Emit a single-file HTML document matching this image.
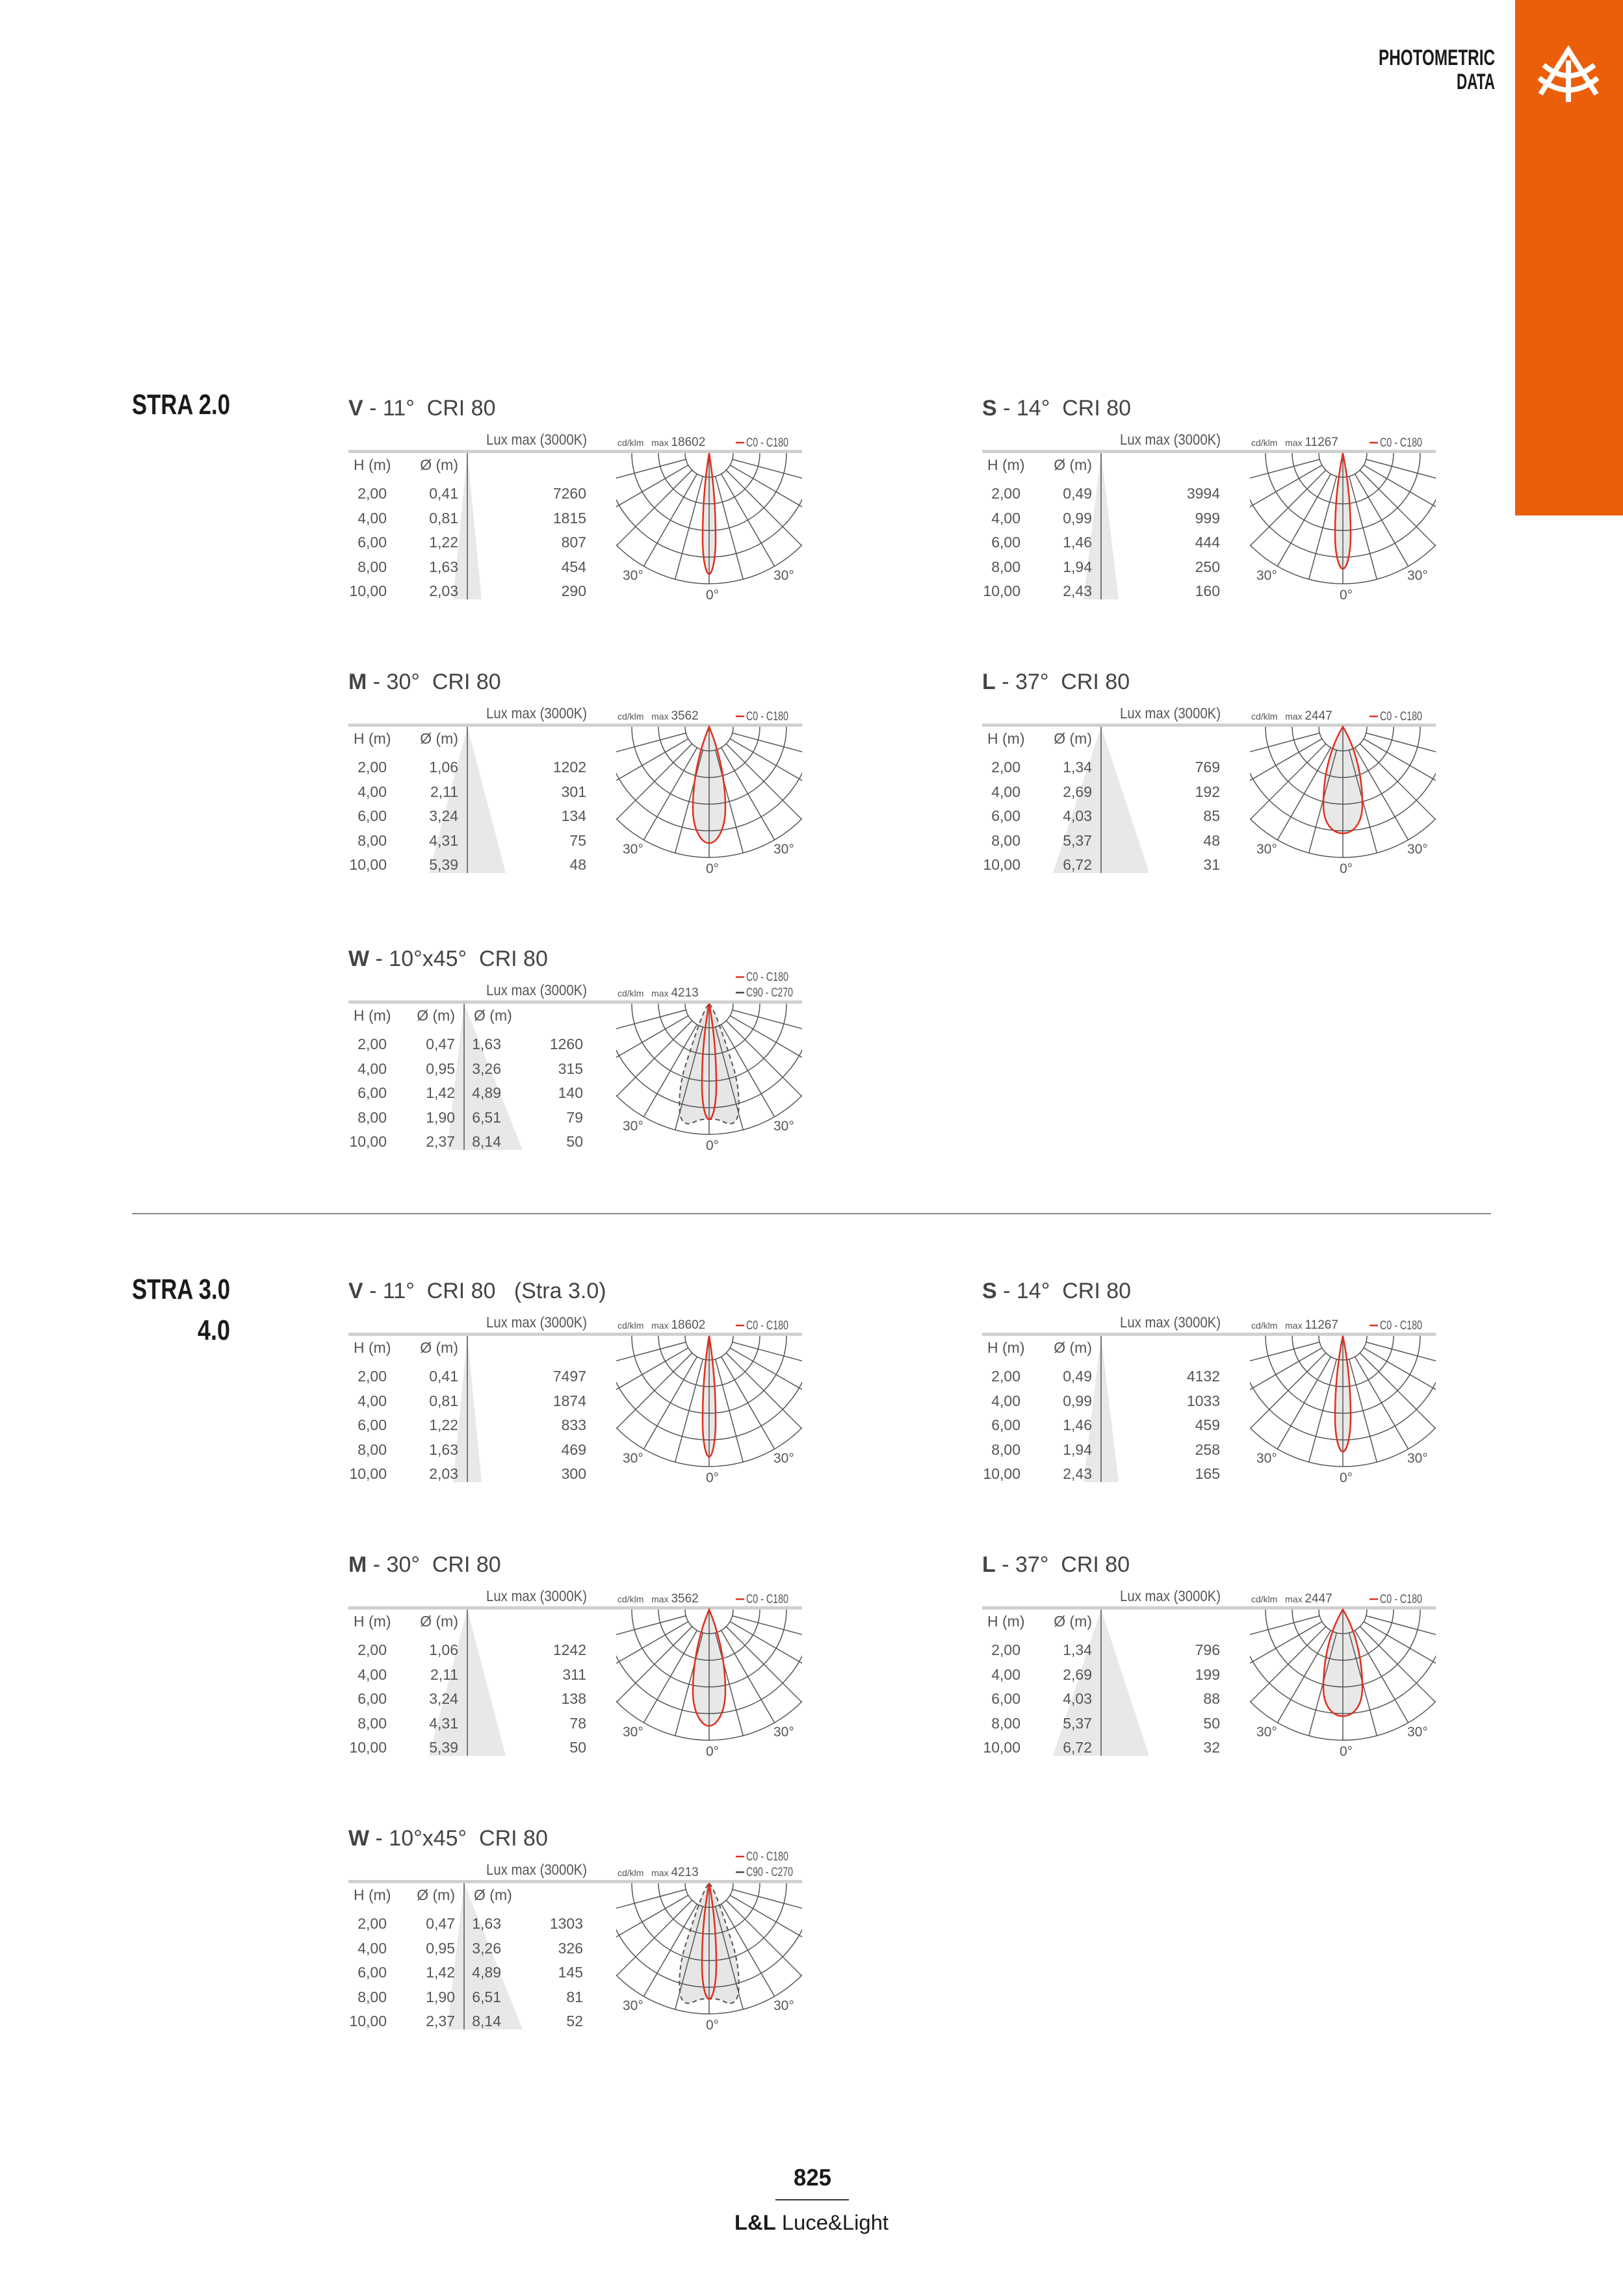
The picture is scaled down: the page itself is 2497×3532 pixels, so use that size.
<!DOCTYPE html>
<html><head><meta charset="utf-8"><style>
html,body{margin:0;padding:0;background:#fff}
svg{display:block}
text{font-family:"Liberation Sans",sans-serif;fill:#555}
.t{font-size:34px;fill:#444}
.s{font-size:23px}
.d{font-size:23px}
.k{font-size:14px}
.m{font-size:19px}
.a{font-size:21px}
</style></head><body>
<svg width="2497" height="3532" viewBox="0 0 2497 3532" xmlns="http://www.w3.org/2000/svg">
<defs>
<clipPath id="cp"><path d="M-143,0 H143 V232 H-143Z"/></clipPath>
<clipPath id="cc"><circle cx="0" cy="0" r="201.5"/></clipPath>
<g id="grid" fill="none" stroke="#555" stroke-width="1.5">
<g clip-path="url(#cp)">
<circle r="37"/><circle r="78"/><circle r="119"/><circle r="160"/><circle r="201"/>
<g clip-path="url(#cc)">
<line x1="0" y1="0" x2="0" y2="201"/>
<line x1="9.6" y1="35.7" x2="104" y2="386"/><line x1="-9.6" y1="35.7" x2="-104" y2="386"/>
<line x1="18.5" y1="32" x2="200" y2="346"/><line x1="-18.5" y1="32" x2="-200" y2="346"/>
<line x1="26.2" y1="26.2" x2="283" y2="283"/><line x1="-26.2" y1="26.2" x2="-283" y2="283"/>
<line x1="32" y1="18.5" x2="346" y2="200"/><line x1="-32" y1="18.5" x2="-346" y2="200"/>
<line x1="35.7" y1="9.6" x2="386" y2="104"/><line x1="-35.7" y1="9.6" x2="-386" y2="104"/>
</g></g></g>
<g id="lab">
<text class="a" x="-133" y="195">30°</text><text class="a" x="99" y="195">30°</text><text class="a" x="-5" y="225">0°</text>
</g>
<path id="lV" d="M0,0 C4.5,27.9 10,74.4 10,130.2 C10,163.7 5,186 0,186 C-5,186 -10,163.7 -10,130.2 C-10,74.4 -4.5,27.9 0,0Z"/>
<path id="lS" d="M0,0 C5.4,26.7 12,71.2 12,124.6 C12,156.6 6,178 0,178 C-6,178 -12,156.6 -12,124.6 C-12,71.2 -5.4,26.7 0,0Z"/>
<path id="lM" d="M0,0 C11.25,26.85 25,71.6 25,125.3 C25,157.5 12.5,179 0,179 C-12.5,179 -25,157.5 -25,125.3 C-25,71.6 -11.25,26.85 0,0Z"/>
<path id="lL" d="M0,0 C15,24.6 30,65.6 30,120 C30,150 15,164 0,164 C-15,164 -30,150 -30,120 C-30,65.6 -15,24.6 0,0Z"/>
<path id="lW" d="M0,0 C5,26.7 11,71.2 11,124.6 C11,156.6 5.5,178 0,178 C-5.5,178 -11,156.6 -11,124.6 C-11,71.2 -5,26.7 0,0Z"/>
<path id="lD" d="M0,0 C10,10 25,60 38,100 C45,125 47,150 45,168 C43,185 33,187 25,183 C18,180 14,177 0,178 C-14,177 -18,180 -25,183 C-33,187 -43,185 -45,168 C-47,150 -45,125 -38,100 C-25,60 -10,10 0,0Z"/>
<g id="hdr">
<rect x="0" y="66" width="698" height="5" fill="#d0d0d0"/>
<text class="s" x="212" y="58" textLength="155" lengthAdjust="spacingAndGlyphs">Lux max (3000K)</text>
<text class="d" x="8" y="97">H (m)</text>
</g>
<g id="leg1"><line x1="596" y1="55" x2="609" y2="55" stroke="#e0301e" stroke-width="2.5"/><text class="m" x="612" y="61" textLength="65" lengthAdjust="spacingAndGlyphs">C0 - C180</text></g>
</defs>

<rect x="2331" y="0" width="166" height="793" fill="#ec5f0a"/>
<text x="2300" y="100" text-anchor="end" style="font-size:34px;font-weight:bold;fill:#1a1a1a" textLength="179" lengthAdjust="spacingAndGlyphs">PHOTOMETRIC</text>
<text x="2300" y="137" text-anchor="end" style="font-size:34px;font-weight:bold;fill:#1a1a1a" textLength="59" lengthAdjust="spacingAndGlyphs">DATA</text>
<g fill="none" stroke="#fff" stroke-width="8">
<path d="M2370,145 L2413,77 L2456,145"/>
<line x1="2413" y1="93" x2="2413" y2="157"/>
<path d="M2375,100 Q2413,133 2453,100"/>
<path d="M2368,120 Q2413,157 2458,120"/>
</g>

<text x="203" y="637" style="font-size:44px;font-weight:bold;fill:#1a1a1a" textLength="151" lengthAdjust="spacingAndGlyphs">STRA 2.0</text>
<line x1="203" y1="1867" x2="2294" y2="1867" stroke="#888" stroke-width="2"/>
<text x="203" y="1998" style="font-size:44px;font-weight:bold;fill:#1a1a1a" textLength="151" lengthAdjust="spacingAndGlyphs">STRA 3.0</text>
<text x="354" y="2061" text-anchor="end" style="font-size:44px;font-weight:bold;fill:#1a1a1a" textLength="50" lengthAdjust="spacingAndGlyphs">4.0</text>

<text x="1250" y="3362" text-anchor="middle" style="font-size:36px;font-weight:bold;fill:#1a1a1a" textLength="58" lengthAdjust="spacingAndGlyphs">825</text>
<line x1="1193" y1="3384" x2="1306" y2="3384" stroke="#333" stroke-width="2"/>
<text x="1130" y="3430" style="font-size:32px;fill:#1a1a1a" textLength="237" lengthAdjust="spacingAndGlyphs"><tspan font-weight="bold">L&amp;L</tspan> Luce&amp;Light</text>

<g transform="translate(536,626)">
<text class="t" x="0" y="13"><tspan font-weight="bold">V</tspan> - 11°&#160;&#160;CRI 80</text>
<use href="#hdr"/>
<polygon points="183,71 161,296 205,296" fill="#e8e8e8"/>
<line x1="183" y1="71" x2="183" y2="296" stroke="#777" stroke-width="2"/>
<text class="d" x="169" y="97" text-anchor="end">Ø (m)</text>
<g class="d" text-anchor="end">
<text x="59" y="141">2,00</text><text x="59" y="179">4,00</text><text x="59" y="216">6,00</text><text x="59" y="254">8,00</text><text x="59" y="291">10,00</text>
<text x="169" y="141">0,41</text><text x="169" y="179">0,81</text><text x="169" y="216">1,22</text><text x="169" y="254">1,63</text><text x="169" y="291">2,03</text>
<text x="366" y="141">7260</text><text x="366" y="179">1815</text><text x="366" y="216">807</text><text x="366" y="254">454</text><text x="366" y="291">290</text>
</g>
<text class="k" x="414" y="60">cd/klm&#160;&#160;&#160;max <tspan class="m">18602</tspan></text>
<use href="#leg1"/>
<g transform="translate(555,71)"><use href="#lV" fill="#e8e8e8"/><use href="#grid"/><use href="#lV" fill="none" stroke="#e0301e" stroke-width="2.5"/><use href="#lab"/></g>
</g>

<g transform="translate(1511,626)">
<text class="t" x="0" y="13"><tspan font-weight="bold">S</tspan> - 14°&#160;&#160;CRI 80</text>
<use href="#hdr"/>
<polygon points="183,71 156,296 210,296" fill="#e8e8e8"/>
<line x1="183" y1="71" x2="183" y2="296" stroke="#777" stroke-width="2"/>
<text class="d" x="169" y="97" text-anchor="end">Ø (m)</text>
<g class="d" text-anchor="end">
<text x="59" y="141">2,00</text><text x="59" y="179">4,00</text><text x="59" y="216">6,00</text><text x="59" y="254">8,00</text><text x="59" y="291">10,00</text>
<text x="169" y="141">0,49</text><text x="169" y="179">0,99</text><text x="169" y="216">1,46</text><text x="169" y="254">1,94</text><text x="169" y="291">2,43</text>
<text x="366" y="141">3994</text><text x="366" y="179">999</text><text x="366" y="216">444</text><text x="366" y="254">250</text><text x="366" y="291">160</text>
</g>
<text class="k" x="414" y="60">cd/klm&#160;&#160;&#160;max <tspan class="m">11267</tspan></text>
<use href="#leg1"/>
<g transform="translate(555,71)"><use href="#lS" fill="#e8e8e8"/><use href="#grid"/><use href="#lS" fill="none" stroke="#e0301e" stroke-width="2.5"/><use href="#lab"/></g>
</g>

<g transform="translate(536,1047)">
<text class="t" x="0" y="13"><tspan font-weight="bold">M</tspan> - 30°&#160;&#160;CRI 80</text>
<use href="#hdr"/>
<polygon points="183,71 124,296 242,296" fill="#e8e8e8"/>
<line x1="183" y1="71" x2="183" y2="296" stroke="#777" stroke-width="2"/>
<text class="d" x="169" y="97" text-anchor="end">Ø (m)</text>
<g class="d" text-anchor="end">
<text x="59" y="141">2,00</text><text x="59" y="179">4,00</text><text x="59" y="216">6,00</text><text x="59" y="254">8,00</text><text x="59" y="291">10,00</text>
<text x="169" y="141">1,06</text><text x="169" y="179">2,11</text><text x="169" y="216">3,24</text><text x="169" y="254">4,31</text><text x="169" y="291">5,39</text>
<text x="366" y="141">1202</text><text x="366" y="179">301</text><text x="366" y="216">134</text><text x="366" y="254">75</text><text x="366" y="291">48</text>
</g>
<text class="k" x="414" y="60">cd/klm&#160;&#160;&#160;max <tspan class="m">3562</tspan></text>
<use href="#leg1"/>
<g transform="translate(555,71)"><use href="#lM" fill="#e8e8e8"/><use href="#grid"/><use href="#lM" fill="none" stroke="#e0301e" stroke-width="2.5"/><use href="#lab"/></g>
</g>

<g transform="translate(1511,1047)">
<text class="t" x="0" y="13"><tspan font-weight="bold">L</tspan> - 37°&#160;&#160;CRI 80</text>
<use href="#hdr"/>
<polygon points="183,71 109,296 257,296" fill="#e8e8e8"/>
<line x1="183" y1="71" x2="183" y2="296" stroke="#777" stroke-width="2"/>
<text class="d" x="169" y="97" text-anchor="end">Ø (m)</text>
<g class="d" text-anchor="end">
<text x="59" y="141">2,00</text><text x="59" y="179">4,00</text><text x="59" y="216">6,00</text><text x="59" y="254">8,00</text><text x="59" y="291">10,00</text>
<text x="169" y="141">1,34</text><text x="169" y="179">2,69</text><text x="169" y="216">4,03</text><text x="169" y="254">5,37</text><text x="169" y="291">6,72</text>
<text x="366" y="141">769</text><text x="366" y="179">192</text><text x="366" y="216">85</text><text x="366" y="254">48</text><text x="366" y="291">31</text>
</g>
<text class="k" x="414" y="60">cd/klm&#160;&#160;&#160;max <tspan class="m">2447</tspan></text>
<use href="#leg1"/>
<g transform="translate(555,71)"><use href="#lL" fill="#e8e8e8"/><use href="#grid"/><use href="#lL" fill="none" stroke="#e0301e" stroke-width="2.5"/><use href="#lab"/></g>
</g>

<g transform="translate(536,1473)">
<text class="t" x="0" y="13"><tspan font-weight="bold">W</tspan> - 10°x45°&#160;&#160;CRI 80</text>
<use href="#hdr"/>
<polygon points="178,71 152,296 268,296" fill="#e8e8e8"/>
<line x1="178" y1="71" x2="178" y2="296" stroke="#777" stroke-width="2"/>
<text class="d" x="164" y="97" text-anchor="end">Ø (m)</text>
<text class="d" x="193" y="97">Ø (m)</text>
<g class="d" text-anchor="end">
<text x="59" y="141">2,00</text><text x="59" y="179">4,00</text><text x="59" y="216">6,00</text><text x="59" y="254">8,00</text><text x="59" y="291">10,00</text>
<text x="164" y="141">0,47</text><text x="164" y="179">0,95</text><text x="164" y="216">1,42</text><text x="164" y="254">1,90</text><text x="164" y="291">2,37</text>
<text x="235" y="141">1,63</text><text x="235" y="179">3,26</text><text x="235" y="216">4,89</text><text x="235" y="254">6,51</text><text x="235" y="291">8,14</text>
<text x="361" y="141">1260</text><text x="361" y="179">315</text><text x="361" y="216">140</text><text x="361" y="254">79</text><text x="361" y="291">50</text>
</g>
<text class="k" x="414" y="60">cd/klm&#160;&#160;&#160;max <tspan class="m">4213</tspan></text>
<line x1="596" y1="30" x2="609" y2="30" stroke="#e0301e" stroke-width="2.5"/><text class="m" x="612" y="36" textLength="65" lengthAdjust="spacingAndGlyphs">C0 - C180</text>
<line x1="596" y1="54" x2="609" y2="54" stroke="#444" stroke-width="2.5"/><text class="m" x="612" y="60" textLength="72" lengthAdjust="spacingAndGlyphs">C90 - C270</text>
<g transform="translate(555,71)"><use href="#lD" fill="#e6e6e6"/><use href="#grid"/><use href="#lD" fill="none" stroke="#555" stroke-width="2" stroke-dasharray="7,5"/><use href="#lW" fill="none" stroke="#e0301e" stroke-width="2.5"/><use href="#lab"/></g>
</g>

<g transform="translate(536,1984)">
<text class="t" x="0" y="13"><tspan font-weight="bold">V</tspan> - 11°&#160;&#160;CRI 80&#160;&#160;&#160;(Stra 3.0)</text>
<use href="#hdr"/>
<polygon points="183,71 161,296 205,296" fill="#e8e8e8"/>
<line x1="183" y1="71" x2="183" y2="296" stroke="#777" stroke-width="2"/>
<text class="d" x="169" y="97" text-anchor="end">Ø (m)</text>
<g class="d" text-anchor="end">
<text x="59" y="141">2,00</text><text x="59" y="179">4,00</text><text x="59" y="216">6,00</text><text x="59" y="254">8,00</text><text x="59" y="291">10,00</text>
<text x="169" y="141">0,41</text><text x="169" y="179">0,81</text><text x="169" y="216">1,22</text><text x="169" y="254">1,63</text><text x="169" y="291">2,03</text>
<text x="366" y="141">7497</text><text x="366" y="179">1874</text><text x="366" y="216">833</text><text x="366" y="254">469</text><text x="366" y="291">300</text>
</g>
<text class="k" x="414" y="60">cd/klm&#160;&#160;&#160;max <tspan class="m">18602</tspan></text>
<use href="#leg1"/>
<g transform="translate(555,71)"><use href="#lV" fill="#e8e8e8"/><use href="#grid"/><use href="#lV" fill="none" stroke="#e0301e" stroke-width="2.5"/><use href="#lab"/></g>
</g>

<g transform="translate(1511,1984)">
<text class="t" x="0" y="13"><tspan font-weight="bold">S</tspan> - 14°&#160;&#160;CRI 80</text>
<use href="#hdr"/>
<polygon points="183,71 156,296 210,296" fill="#e8e8e8"/>
<line x1="183" y1="71" x2="183" y2="296" stroke="#777" stroke-width="2"/>
<text class="d" x="169" y="97" text-anchor="end">Ø (m)</text>
<g class="d" text-anchor="end">
<text x="59" y="141">2,00</text><text x="59" y="179">4,00</text><text x="59" y="216">6,00</text><text x="59" y="254">8,00</text><text x="59" y="291">10,00</text>
<text x="169" y="141">0,49</text><text x="169" y="179">0,99</text><text x="169" y="216">1,46</text><text x="169" y="254">1,94</text><text x="169" y="291">2,43</text>
<text x="366" y="141">4132</text><text x="366" y="179">1033</text><text x="366" y="216">459</text><text x="366" y="254">258</text><text x="366" y="291">165</text>
</g>
<text class="k" x="414" y="60">cd/klm&#160;&#160;&#160;max <tspan class="m">11267</tspan></text>
<use href="#leg1"/>
<g transform="translate(555,71)"><use href="#lS" fill="#e8e8e8"/><use href="#grid"/><use href="#lS" fill="none" stroke="#e0301e" stroke-width="2.5"/><use href="#lab"/></g>
</g>

<g transform="translate(536,2405)">
<text class="t" x="0" y="13"><tspan font-weight="bold">M</tspan> - 30°&#160;&#160;CRI 80</text>
<use href="#hdr"/>
<polygon points="183,71 124,296 242,296" fill="#e8e8e8"/>
<line x1="183" y1="71" x2="183" y2="296" stroke="#777" stroke-width="2"/>
<text class="d" x="169" y="97" text-anchor="end">Ø (m)</text>
<g class="d" text-anchor="end">
<text x="59" y="141">2,00</text><text x="59" y="179">4,00</text><text x="59" y="216">6,00</text><text x="59" y="254">8,00</text><text x="59" y="291">10,00</text>
<text x="169" y="141">1,06</text><text x="169" y="179">2,11</text><text x="169" y="216">3,24</text><text x="169" y="254">4,31</text><text x="169" y="291">5,39</text>
<text x="366" y="141">1242</text><text x="366" y="179">311</text><text x="366" y="216">138</text><text x="366" y="254">78</text><text x="366" y="291">50</text>
</g>
<text class="k" x="414" y="60">cd/klm&#160;&#160;&#160;max <tspan class="m">3562</tspan></text>
<use href="#leg1"/>
<g transform="translate(555,71)"><use href="#lM" fill="#e8e8e8"/><use href="#grid"/><use href="#lM" fill="none" stroke="#e0301e" stroke-width="2.5"/><use href="#lab"/></g>
</g>

<g transform="translate(1511,2405)">
<text class="t" x="0" y="13"><tspan font-weight="bold">L</tspan> - 37°&#160;&#160;CRI 80</text>
<use href="#hdr"/>
<polygon points="183,71 109,296 257,296" fill="#e8e8e8"/>
<line x1="183" y1="71" x2="183" y2="296" stroke="#777" stroke-width="2"/>
<text class="d" x="169" y="97" text-anchor="end">Ø (m)</text>
<g class="d" text-anchor="end">
<text x="59" y="141">2,00</text><text x="59" y="179">4,00</text><text x="59" y="216">6,00</text><text x="59" y="254">8,00</text><text x="59" y="291">10,00</text>
<text x="169" y="141">1,34</text><text x="169" y="179">2,69</text><text x="169" y="216">4,03</text><text x="169" y="254">5,37</text><text x="169" y="291">6,72</text>
<text x="366" y="141">796</text><text x="366" y="179">199</text><text x="366" y="216">88</text><text x="366" y="254">50</text><text x="366" y="291">32</text>
</g>
<text class="k" x="414" y="60">cd/klm&#160;&#160;&#160;max <tspan class="m">2447</tspan></text>
<use href="#leg1"/>
<g transform="translate(555,71)"><use href="#lL" fill="#e8e8e8"/><use href="#grid"/><use href="#lL" fill="none" stroke="#e0301e" stroke-width="2.5"/><use href="#lab"/></g>
</g>

<g transform="translate(536,2826)">
<text class="t" x="0" y="13"><tspan font-weight="bold">W</tspan> - 10°x45°&#160;&#160;CRI 80</text>
<use href="#hdr"/>
<polygon points="178,71 152,296 268,296" fill="#e8e8e8"/>
<line x1="178" y1="71" x2="178" y2="296" stroke="#777" stroke-width="2"/>
<text class="d" x="164" y="97" text-anchor="end">Ø (m)</text>
<text class="d" x="193" y="97">Ø (m)</text>
<g class="d" text-anchor="end">
<text x="59" y="141">2,00</text><text x="59" y="179">4,00</text><text x="59" y="216">6,00</text><text x="59" y="254">8,00</text><text x="59" y="291">10,00</text>
<text x="164" y="141">0,47</text><text x="164" y="179">0,95</text><text x="164" y="216">1,42</text><text x="164" y="254">1,90</text><text x="164" y="291">2,37</text>
<text x="235" y="141">1,63</text><text x="235" y="179">3,26</text><text x="235" y="216">4,89</text><text x="235" y="254">6,51</text><text x="235" y="291">8,14</text>
<text x="361" y="141">1303</text><text x="361" y="179">326</text><text x="361" y="216">145</text><text x="361" y="254">81</text><text x="361" y="291">52</text>
</g>
<text class="k" x="414" y="60">cd/klm&#160;&#160;&#160;max <tspan class="m">4213</tspan></text>
<line x1="596" y1="30" x2="609" y2="30" stroke="#e0301e" stroke-width="2.5"/><text class="m" x="612" y="36" textLength="65" lengthAdjust="spacingAndGlyphs">C0 - C180</text>
<line x1="596" y1="54" x2="609" y2="54" stroke="#444" stroke-width="2.5"/><text class="m" x="612" y="60" textLength="72" lengthAdjust="spacingAndGlyphs">C90 - C270</text>
<g transform="translate(555,71)"><use href="#lD" fill="#e6e6e6"/><use href="#grid"/><use href="#lD" fill="none" stroke="#555" stroke-width="2" stroke-dasharray="7,5"/><use href="#lW" fill="none" stroke="#e0301e" stroke-width="2.5"/><use href="#lab"/></g>
</g>
</svg>
</body></html>
